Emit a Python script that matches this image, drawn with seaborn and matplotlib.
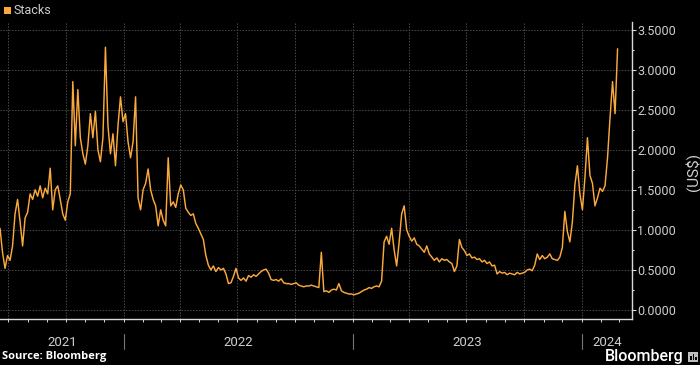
import numpy as np
import pandas as pd
import matplotlib
matplotlib.use("Agg")
import matplotlib.pyplot as plt
import matplotlib.dates as mdates
import matplotlib.transforms as mtransforms
from matplotlib.lines import Line2D
from matplotlib.patches import Rectangle
from matplotlib.ticker import MultipleLocator, FuncFormatter
import seaborn as sns

# ---------------- data ----------------
series_name = "Stacks"
start_date = "2021-06-18"
step_days = 4
prices = [
    1.02, 0.72, 0.52, 0.68, 0.62, 0.80, 1.20, 1.38, 1.10, 0.80,
    1.15, 1.22, 1.45, 1.38, 1.50, 1.42, 1.55, 1.40, 1.52, 1.45,
    1.77, 1.25, 1.50, 1.55, 1.38, 1.20, 1.12, 1.35, 1.45, 2.85,
    2.05, 2.75, 2.15, 1.95, 1.82, 2.05, 2.45, 2.15, 2.48, 2.00,
    1.85, 2.15, 3.28, 2.30, 1.95, 2.20, 1.80, 2.30, 2.66, 2.35,
    2.45, 2.10, 1.90, 2.10, 2.66, 1.40, 1.25, 1.50, 1.58, 1.76,
    1.50, 1.38, 1.30, 1.05, 1.25, 1.12, 1.05, 1.90, 1.30, 1.35,
    1.28, 1.45, 1.56, 1.50, 1.27, 1.22, 1.18, 1.20, 1.08, 1.02,
    0.95, 0.88, 0.68, 0.56, 0.50, 0.55, 0.48, 0.53, 0.50, 0.52,
    0.45, 0.33, 0.34, 0.42, 0.52, 0.40, 0.37, 0.40, 0.36, 0.43,
    0.41, 0.44, 0.42, 0.45, 0.48, 0.50, 0.51, 0.46, 0.38, 0.37,
    0.38, 0.36, 0.39, 0.34, 0.33, 0.33, 0.32, 0.33, 0.34, 0.31,
    0.30, 0.29, 0.30, 0.30, 0.31, 0.30, 0.29, 0.28, 0.72, 0.23,
    0.24, 0.22, 0.25, 0.26, 0.25, 0.33, 0.24, 0.22, 0.21, 0.20,
    0.20, 0.19, 0.20, 0.21, 0.23, 0.25, 0.26, 0.28, 0.27, 0.29,
    0.30, 0.29, 0.36, 0.85, 0.92, 0.82, 1.02, 0.75, 0.55, 0.85,
    1.20, 1.30, 1.00, 0.92, 0.86, 0.90, 0.82, 0.80, 0.76, 0.72,
    0.80, 0.70, 0.66, 0.62, 0.65, 0.60, 0.64, 0.62, 0.63, 0.60,
    0.58, 0.48, 0.55, 0.88, 0.78, 0.74, 0.68, 0.70, 0.65, 0.66,
    0.63, 0.64, 0.60, 0.62, 0.58, 0.60, 0.55, 0.56, 0.45, 0.48,
    0.46, 0.47, 0.44, 0.46, 0.45, 0.44, 0.47, 0.45, 0.46, 0.47,
    0.50, 0.51, 0.49, 0.56, 0.70, 0.63, 0.68, 0.64, 0.66, 0.70,
    0.64, 0.63, 0.62, 0.66, 0.78, 1.23, 0.98, 0.85, 1.10, 1.56,
    1.80, 1.45, 1.25, 1.65, 2.15, 1.68, 1.58, 1.30, 1.40, 1.52,
    1.48, 1.55, 1.90, 2.40, 2.85, 2.45, 3.26,
]
year_labels = ["2021", "2022", "2023", "2024"]
y_ticks = [0.0, 0.5, 1.0, 1.5, 2.0, 2.5, 3.0, 3.5]
y_label = "(US$)"
source_text = "Source: Bloomberg"
brand_text = "Bloomberg"

dates = pd.date_range(start_date, periods=len(prices), freq=f"{step_days}D")
df = pd.DataFrame({"date": dates, "price": prices})

# ---------------- style ----------------
ORANGE = "#FBA93C"
TXT = "#cfcfcf"
GRID = "#4a4a4a"
W, H = 700, 365
NARROW = ["Roboto", "DejaVu Sans"]

sns.set_theme(style="dark")
plt.rcParams["font.family"] = ["Roboto", "DejaVu Sans"]

fig = plt.figure(figsize=(7.0, 3.65), dpi=100, facecolor="black")
ax = fig.add_axes([0, 1 - 319 / H, 632 / W, (319 - 22) / H])
ax.set_facecolor("black")

sns.lineplot(data=df, x="date", y="price", ax=ax, color=ORANGE,
             linewidth=1.05, zorder=3)

x_left = pd.Timestamp("2021-06-18")
x_right = pd.Timestamp("2024-03-21")
ax.set_xlim(x_left, x_right)
ax.set_ylim(-0.112, 3.594)

# spines
for s in ["left", "top"]:
    ax.spines[s].set_visible(False)
for s in ["right", "bottom"]:
    ax.spines[s].set_visible(True)
    ax.spines[s].set_color("#d8d8d8")
    ax.spines[s].set_linewidth(1.0)

# y axis on the right
ax.yaxis.tick_right()
ax.set_yticks(y_ticks)
ax.yaxis.set_major_formatter(FuncFormatter(lambda v, p: f"{v:.4f}"))
ax.yaxis.set_minor_locator(MultipleLocator(0.25))
ax.tick_params(axis="y", which="major", right=True, left=False, length=3,
               width=0.8, color="#d8d8d8", pad=0.8, labelsize=9,
               labelcolor=TXT)
ax.tick_params(axis="y", which="minor", right=True, left=False, length=1.5,
               width=0.8, color="#d8d8d8")
ax.set_ylabel("")
fig.text(693 / W, 1 - 172 / H, y_label, color=TXT, fontsize=11,
         rotation=90, ha="center", va="center")

# grid
ax.yaxis.grid(True, which="major", color=GRID, linestyle=(0, (1.5, 1.5)),
              linewidth=0.7)
ax.xaxis.grid(False)
for q in pd.date_range("2021-07-01", "2024-03-01", freq="QS"):
    ax.axvline(q, color=GRID, linestyle=(0, (1.5, 1.5)), linewidth=0.7,
               zorder=1)

# x axis: monthly minor ticks, year labels placed below
ax.set_xticks([])
ax.xaxis.set_minor_locator(mdates.MonthLocator())
ax.tick_params(axis="x", which="minor", bottom=True, length=2.5, width=0.7,
               color="#d8d8d8")
ax.set_xlabel("")

trans = mtransforms.blended_transform_factory(ax.transData, ax.transAxes)
bounds = [x_left, pd.Timestamp("2022-01-01"), pd.Timestamp("2023-01-01"),
          pd.Timestamp("2024-01-01"), x_right]
ax_h = 319 - 22
for i, lab in enumerate(year_labels):
    c = bounds[i] + (bounds[i + 1] - bounds[i]) / 2
    ax.text(c, -(343 - 319) / ax_h, lab, transform=trans, ha="center",
            va="center", color=TXT, fontsize=9.5, clip_on=False)
for b in bounds[1:4]:
    ax.add_line(Line2D([b, b], [-(334 - 319) / ax_h, -(349 - 319) / ax_h],
                       transform=trans, color="#777777", linewidth=0.8,
                       clip_on=False))

# legend
fig.patches.append(Rectangle((4 / W, 1 - 14 / H), 6.5 / W, 7.5 / H,
                             transform=fig.transFigure, facecolor=ORANGE,
                             edgecolor="none"))
fig.text(13 / W, 1 - 11 / H, series_name, color=TXT, fontsize=9,
         ha="left", va="center")

# footer
fig.text(2 / W, 1 - 357 / H, source_text, color="white", fontsize=8,
         fontweight="bold", family=["Open Sans", "DejaVu Sans"],
         ha="left", va="center")
fig.text(684 / W, 1 - 356 / H, brand_text, color="white", fontsize=11.5,
         fontweight="medium", ha="right", va="center")
fig.patches.append(Rectangle((688 / W, 1 - 362 / H), 10 / W, 10 / H,
                             transform=fig.transFigure, facecolor="#bdbdbd",
                             edgecolor="none"))
for bx, bh in [(690, 4), (692.5, 6), (695, 3)]:
    fig.patches.append(Rectangle((bx / W, 1 - 360 / H), 1.5 / W, bh / H,
                                 transform=fig.transFigure,
                                 facecolor="black", edgecolor="none"))

fig.savefig("out.png", dpi=100, facecolor="black")
